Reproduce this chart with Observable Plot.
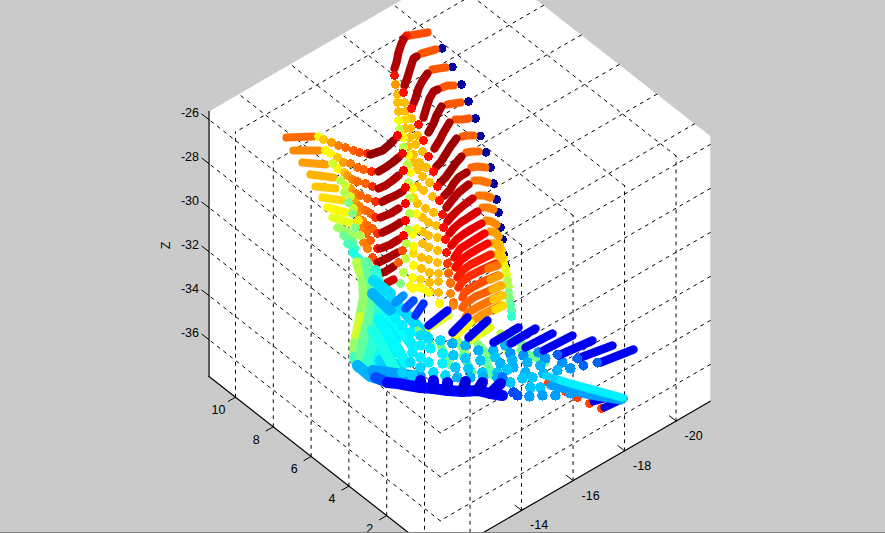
<!DOCTYPE html>
<html><head><meta charset="utf-8">
<script src="https://cdn.jsdelivr.net/npm/d3@7"></script>
<script src="https://cdn.jsdelivr.net/npm/@observablehq/plot@0.6"></script>
<style>html,body{margin:0;padding:0;background:#c8c8c8;overflow:hidden}svg{display:block}</style>
</head><body><div id="chart"></div>
<script>
// Axis ticks of the 3-D box
const xTicks = [0,2,4,6,8,10];
const yTicks = [-12,-14,-16,-18,-20];
const zTicks = [-36,-34,-32,-30,-28,-26];
const xLabelled = [2,4,6,8,10];
const yLabelled = [-14,-16,-18,-20];
const zLabelled = [-26,-28,-30,-32,-34,-36];
const xLim = [-0.83,11.4], yLim = [-21.33,-10.84], zLim = [-37.67,-25.62];

// Every series below: [colour value, picture x, picture y, x, y, ...].
const tips = [[0.03, 441.5,48, 452,66.5, 461,84, 468,101, 475,118, 480,135.5, 485.5,152, 490,167, 493,183, 496,199, 498,212, 500,227, 502,239, 503,254, 505,265]];
const rimDots = [[0.68,499,244,501,250],[0.64,502,257,503,263],[0.6,505,268,506,274],[0.55,507,280,508,286],[0.5,508,292,509,298],[0.46,510,304,511,310],[0.42,511,316]];
const wingOrange = [
 [0.8,427,32,409,35],[0.79,435,49,428,51,421,53],[0.79,445,67,438,68,432,69],[0.79,453,85,447,85,442,87],
 [0.79,460,102,453,103,447,104],[0.79,468,118,462,119,455,119],[0.78,473,135,467,135,462,136],[0.77,478,151,472,151,466,152],
 [0.77,485,167,477,166,471,167],[0.76,487,182,480,180,474,180],[0.76,490,197,484,195,478,195],[0.75,493,209,487,207,482,207],
 [0.74,496,224,491,221,486,220],[0.72,498,236,495,232,490,231],[0.7,499,247,495,243,490,243],[0.68,502,258,497,254,492,254]];
const wingDark = [
 [0.85,406,35,403,39],[0.95,403,39,401,43,398,52,396,62,394,68],[0.96,416,56,413,58,410,67,407,77,404,85],
 [0.96,427,73,422,80,418,88,415,98,413,103],[0.96,437,89,433,91,429,98,426,107,423,117],[0.97,441,106,436,115,433,123,428,132],
 [0.96,449,122,443,132,439,140,434,148],[0.97,456,138,450,146,445,154,440,162,436,166],[0.97,461,156,455,163,450,170,445,177,440,182],
 [0.96,466,172,458,177,453,183,449,190,444,195],[0.95,468,184,458,192,452,199,446,207],[0.93,472,198,464,204,457,210,451,216,447,221],
 [0.91,477,211,468,217,460,222,453,228,449,233],[0.9,481,223,472,228,464,233,456,239,451,245],[0.88,484,233,476,238,468,243,460,248,454,257],
 [0.87,487,243,478,248,468,254,460,260,455,267],[0.85,490,254,480,259,470,264,462,270,457,277],[0.83,495,263,482,269,470,275,462,281,458,287],
 [0.8,497,275,485,280,473,286,464,292,462,297],[0.78,500,285,487,291,475,296,465,303,462,307],[0.76,500,295,488,301,478,306,468,312,465,317],[0.73,500,305,490,310,480,315,470,322]];
const wingCaps = [[0.76,497,265,488,268],[0.72,499,275,490,279],[0.7,501,285,492,289],[0.68,502,295,493,299],[0.66,503,305,495,309]];
const wingEnds = [[0.86,394,75,403,92,411,108,418,124,423,140,428,156,433,171,437,186,439,200,442,214,443,227,445,239,446,252],[0.82,447,263],[0.78,448,273],[0.76,450,283],[0.74,450,293,453,305]];
const goldDots = [
 [0.73,395,84],
 [0.69,397,94,397,102,404,102,398,111,405,111,411,118,405,128,410,128,417,135,409,137,408,146,415,144,422,151,413,154,419,162,413,162,425,167,426,167,429,182,422,176,417,169,432,196,423,190,417,186,433,212,425,208,417,203,436,225,428,222,422,217,437,237,428,235,422,231,437,250,428,247,422,243,437,262,428,259,421,257,438,273,429,272,421,268,438,281,429,282,430,291,438,292,448,272],
 [0.66,405,119,413,253,420,279,413,197],
 [0.63,398,120,403,137,408,155,410,172,412,188,416,213,416,228,412,234,413,246,413,265,412,277,422,288,412,288,439,303,410,285,418,287,428,292],
 [0.56,399,129,403,147,407,164,408,182,409,198,409,213,408,229,406,243,405,258,403,272],
 [0.5,400,283],
 [0.76,450,282,453,302]];
const leftBands = [
 [0.77,286,137,313,136],[0.74,293,150,318,150],[0.72,302,162,325,164],[0.7,310,174,333,177],[0.68,315,186,335,188],[0.66,322,197,342,200],
 [0.63,327,207,346,212],[0.6,332,217,352,223],[0.53,337,227,355,235],[0.48,343,235,353,242],[0.44,347,243,355,248],[0.4,352,252,360,260],[0.37,360,265,365,268]];
const leftDots = [
 [0.63,318,136,325,150,330,153,337,168],[0.68,323,139,337,157,344,172],[0.72,331,142,343,162,347,175,350,188,355,202,357,213],
 [0.75,338,145,350,163,352,179,355,193,359,206,362,220,362,227,367,248,363,242],[0.77,345,147,357,167,357,181,360,195,365,210,367,225,366,233],
 [0.78,353,150,363,169,365,183,367,198,370,213,372,228,370,240],[0.8,359,152,372,257],[0.83,367,153,371,171,372,186,375,201,375,217,377,233],
 [0.85,377,248,377,262],[0.58,332,163,345,185,350,196,353,208],[0.55,340,180,344,192,360,235],[0.5,348,202,352,213,355,227],[0.65,358,220]];
const leftDark = [
 [0.98,370,154,382,150,388,145,393,140],[0.97,378,171,385,167,392,162,398,157],[0.95,378,188,385,185,392,180,398,175],[0.96,382,201,388,198,395,195,402,191],
 [0.95,380,217,390,213,398,208],[0.96,382,232,392,227,400,222],[0.95,380,248,390,244,398,239],[0.96,378,262,388,257,397,252],[0.97,375,275,385,271,393,266],[0.92,387,282,393,279]];
const leftEnds = [[0.88,397,135,402,153,403,170,405,187,405,203,405,220,403,235],[0.8,402,250],[0.78,398,262]];
const sheetBands = [
 [0.55,357,262,363,280],[0.52,363,280,364,297,360,317],[0.58,360,317,355,343],[0.52,355,343,354,357],[0.44,354,357,358,367],
 [0.47,366,262,372,285,372,305,367,325,362,345,360,360],[0.42,375,270,380,295,378,320,372,345,367,362],[0.37,385,290,390,315,385,340,378,360,375,375],
 [0.34,373,280,390,293],[0.3,357,365,370,376,390,382],[0.36,393,315,395,340,388,362],[0.33,380,360,400,365],
 [0.34,392,300,410,318,425,335],[0.38,385,308,400,328,412,345],[0.37,378,318,392,340,405,362],[0.4,372,330,385,352,395,370],[0.3,372,293,390,310],[0.28,372,370,395,373,420,376]];
const fanGreen = [[0.5,417,330,430,343],[0.52,455,337,465,353],[0.5,477,343,490,357],[0.55,500,333,510,357],[0.6,428,327,448,315],[0.62,455,335,470,322],[0.6,470,340,490,327],[0.5,505,335,525,345],[0.48,520,350,545,362],[0.48,440,345,450,365],[0.47,462,355,472,372],[0.47,485,360,492,375]];
const lattice = [
 [0.36,395,318,402,325,410,332,420,335],[0.34,420,335,428,338,440,340],[0.3,452,343,465,345,478,350,493,350,505,345],
 [0.36,410,342,420,345,430,348,442,353],[0.32,453,355,465,358,480,360,495,357],
 [0.36,412,352,420,357,428,362,442,363],[0.32,455,367,468,368,482,372,497,372],
 [0.34,410,362,420,367,433,372,445,375],[0.3,457,377,470,377,483,377,497,377],
 [0.33,402,372,412,375,420,380],
 [0.27,510,353,523,355,538,352,545,358,562,362,570,368],[0.3,512,360,527,362,540,365,557,370],[0.3,500,363,513,367,525,372,543,373],
 [0.32,507,369,510,382,522,378,532,377,530,387,540,387],[0.24,502,377],[0.2,513,392,517,395],[0.28,529,396,542,395,555,395,570,393]];
const fanBlue = [
 [0.27,395,302,403,295],[0.2,405,308,413,300],[0.17,415,315,423,303],[0.13,428,325,447,310],[0.12,452,332,467,317],[0.11,468,337,487,320],
 [0.11,493,342,518,327],[0.11,510,343,535,328],[0.11,525,347,552,333],[0.11,543,350,572,335],[0.11,558,355,592,340],[0.11,580,357,612,345],[0.11,600,362,633,349]];
const fanBlueDots = [[0.22,557,354,577,358,583,365,597,362]];
const tipRed = [[0.81,548,382,560,387,565,391,577,397,589,403,601,408]];
const tipBands = [[0.1,593,401,612,396],[0.1,604,407,623,398],[0.28,550,385,590,395,620,400],[0.33,545,375,575,385,623,398],[0.36,560,380,600,391,622,397]];
const bottomBand = [
 [0.2,375,377,387,382],[0.13,387,382,397,383,408,385,420,387,433,388,447,390,462,391,477,390,490,393,502,395],
 [0.12,420,380,420,387],[0.1,433,380,433,388],[0.1,447,382,447,390],[0.09,465,381,462,391],[0.09,482,382,477,390],[0.1,500,383,490,393]];

const flat = (groups, tag) => groups.flatMap((g, i) => {
  const out = [];
  for (let k = 1; k < g.length; k += 2) out.push({v: g[0], px: g[k], py: g[k + 1], id: tag + i});
  return out;
});

// Oblique view of the box, in picture units
const sx = (X, Y) => 235 - 18.9 * (X - 10) - 25.75 * (Y - yLim[1]);
const sy = (X, Y, Z) => 396.7 - 14.8 * (X - 10) + 14.9 * (Y - yLim[1]) - 22 * (Z - zLim[0]);
const seg = (a, b, id) => [a, b].map(([X, Y, Z]) => ({px: sx(X, Y), py: sy(X, Y, Z), id}));

const [x0, x1] = xLim, [y0, y1] = yLim, [z0, z1] = zLim;
const hexagon = [[x1,y1,z0],[x0,y1,z0],[x0,y0,z0],[x0,y0,z1],[x1,y0,z1],[x1,y1,z1],[x1,y1,z0]].map(([X,Y,Z]) => ({px: sx(X,Y), py: sy(X,Y,Z)}));
const grid = [
  ...xTicks.flatMap(t => [...seg([t,y1,z0],[t,y1,z1],"xv"+t), ...seg([t,y0,z1],[t,y1,z1],"xc"+t)]),
  ...yTicks.flatMap(t => [...seg([x0,t,z0],[x0,t,z1],"yv"+t), ...seg([x0,t,z1],[x1,t,z1],"yc"+t)]),
  ...zTicks.flatMap(t => [...seg([x0,y1,t],[x1,y1,t],"zl"+t), ...seg([x0,y0,t],[x0,y1,t],"zr"+t)])
];
const frame = [...seg([x1,y1,z0],[x0,y1,z0],"f1"), ...seg([x0,y1,z0],[x0,y0,z0],"f2"), ...seg([x1,y1,z0],[x1,y1,z1],"f3")];
const yTickMarks = yTicks.flatMap(t => [{px:sx(x0,t),py:sy(x0,t,z0),id:"t"+t},{px:sx(x0+0.35,t),py:sy(x0+0.35,t,z0),id:"t"+t}]);
const xTickMarks = xTicks.flatMap(t => [{px:sx(t,y1),py:sy(t,y1,z0),id:"x"+t},{px:sx(t,y1+0.28),py:sy(t,y1+0.28,z0),id:"x"+t}]);
const zTickMarks = zTicks.flatMap(t => [{px:sx(x1,y1),py:sy(x1,y1,t),id:"z"+t},{px:sx(x1+0.38,y1),py:sy(x1+0.38,y1,t),id:"z"+t}]);

const band = (groups, tag, w = 8.2) => Plot.line(flat(groups, tag), {x: "px", y: "py", z: "id", stroke: "v", strokeWidth: w, strokeLinecap: "round", strokeLinejoin: "round"});
const dots = (groups, tag, r = 4.4) => Plot.dot(flat(groups, tag), {x: "px", y: "py", r, fill: "v", stroke: null, shapeRendering: "crispEdges"});
const font = {fontFamily: "Liberation Sans, Arial, sans-serif", fontSize: 12.5, fill: "#000"};

const plot = Plot.plot({
  width: 885, height: 533, margin: 0,
  style: {background: "#cacaca"},
  x: {domain: [0, 885], range: [0, 885], axis: null},
  y: {domain: [0, 533], range: [0, 533], axis: null},
  color: {type: "linear", domain: [0, .125, .375, .625, .875, 1], range: ["#000080", "#0000ff", "#00ffff", "#ffff00", "#ff0000", "#800000"]},
  marks: [
    Plot.line(hexagon, {x: "px", y: "py", fill: "white", stroke: null}),
    Plot.line(grid, {x: "px", y: "py", z: "id", stroke: "#000", strokeWidth: 1, strokeDasharray: "3,5"}),
    Plot.line(frame, {x: "px", y: "py", z: "id", stroke: "#000", strokeWidth: 1.2}),
    Plot.line(xTickMarks, {x: "px", y: "py", z: "id", stroke: "#000", strokeWidth: 1}),
    Plot.line(yTickMarks, {x: "px", y: "py", z: "id", stroke: "#000", strokeWidth: 1}),
    Plot.line(zTickMarks, {x: "px", y: "py", z: "id", stroke: "#000", strokeWidth: 1}),
    Plot.text(zLabelled, {x: d => sx(x1,y1), y: d => sy(x1,y1,d), text: d => String(d), dx: -10, dy: -6.5, textAnchor: "end", ...font}),
    Plot.text(xLabelled, {x: d => sx(d,y1), y: d => sy(d,y1,z0), text: d => String(d), dx: -17, dy: 13, ...font}),
    Plot.text(yLabelled, {x: d => sx(x0,d), y: d => sy(x0,d,z0), text: d => String(d), dx: 17.5, dy: 15, ...font}),
    Plot.text(["Z"], {x: () => 165, y: () => 245, text: d => d, rotate: -90, ...font}),
    Plot.ruleY([532], {stroke: "#808080"}),
    dots(tips, "tip", 4.3),
    dots(rimDots, "rim"),
    band(wingOrange, "wo"),
    band(wingDark, "wd"),
    band(wingCaps, "wc"),
    dots(goldDots, "gold"),
    dots(wingEnds, "we"),
    band(leftBands, "lb"),
    dots(leftDots, "ld"),
    band(leftDark, "lk"),
    dots(leftEnds, "le"),
    dots(tipRed, "tr"),
    band(sheetBands, "sb", 11),
    band(fanGreen, "fg", 8),
    dots(lattice, "la", 5.2),
    band(fanBlue, "fb", 8.5),
    dots(fanBlueDots, "fd", 5),
    band(tipBands, "tb", 8),
    band(bottomBand, "bb", 11)
  ]
});
document.getElementById("chart").append(plot);
</script></body></html>
